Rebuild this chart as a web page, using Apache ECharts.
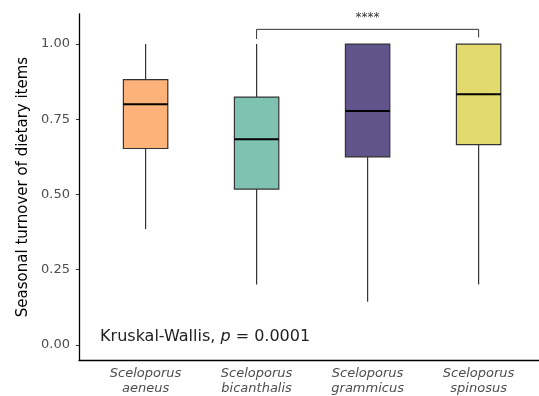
<!DOCTYPE html>
<html>
<head>
<meta charset="utf-8">
<script src="https://cdn.jsdelivr.net/npm/echarts@6/dist/echarts.min.js"></script>
<style>html,body{margin:0;padding:0;background:#fff}#c{width:539px;height:396px}</style>
</head>
<body>
<div id="c"></div>
<script>
const categories = ['Sceloporus\naeneus', 'Sceloporus\nbicanthalis', 'Sceloporus\ngrammicus', 'Sceloporus\nspinosus'];
const colors = ['#FDB27A', '#80C2B2', '#61548A', '#E2DA6D'];
// [lower whisker, Q1, median, Q3, upper whisker]
const lowWhisker = [0.385, 0.201, 0.144, 0.201];
const q1 = [0.653, 0.518, 0.625, 0.666];
const median = [0.800, 0.684, 0.778, 0.833];
const q3 = [0.882, 0.824, 1.000, 1.000];
const highWhisker = [1.000, 1.000, 1.000, 1.000];
const yTicks = [0, 0.25, 0.5, 0.75, 1.0];
const xTicks = [1, 2, 3, 4];
const bracket = { from: 2, to: 4, y: 1.049, leftEnd: 1.017, rightEnd: 1.022, label: '****', labelY: 1.088 };
const testLabel = { x: 0.59, y: 0.026 };

const boxData = categories.map((c, i) => [i + 1, lowWhisker[i], q1[i], median[i], q3[i], highWhisker[i], i]);

const chart = echarts.init(document.getElementById('c'), null, { renderer: 'canvas' });
const FONT = 'DejaVu Sans';
chart.setOption({
  backgroundColor: '#fff',
  animation: false,
  grid: { left: 79, right: 0, top: 14, bottom: 35, containLabel: false },
  xAxis: {
    type: 'value', min: 0.4, max: 4.544,
    splitLine: { show: false },
    axisLine: { show: true, onZero: false, lineStyle: { color: '#000', width: 1.3 } },
    axisTick: { show: false },
    axisLabel: {
      customValues: xTicks,
      formatter: v => categories[Math.round(v) - 1] || '',
      fontFamily: FONT, fontSize: 13, fontStyle: 'italic', color: '#4d4d4d',
      lineHeight: 15, margin: 6
    }
  },
  yAxis: {
    type: 'value', min: -0.05, max: 1.10,
    splitLine: { show: false },
    axisLine: { show: true, onZero: false, lineStyle: { color: '#000', width: 1.3 } },
    axisTick: { show: true, customValues: yTicks, length: 3, lineStyle: { color: '#333' } },
    axisLabel: {
      customValues: yTicks,
      formatter: v => v.toFixed(2),
      fontFamily: FONT, fontSize: 13, color: '#4d4d4d', margin: 9
    },
    name: 'Seasonal turnover of dietary items',
    nameLocation: 'middle', nameGap: 46,
    nameTextStyle: { fontFamily: FONT, fontSize: 15, color: '#000' }
  },
  series: [
    {
      type: 'custom',
      data: boxData,
      renderItem: function (params, api) {
        const x = api.value(0);
        const half = api.size([0.4, 0])[0] / 2;
        const pLow = api.coord([x, api.value(1)]);
        const pQ1 = api.coord([x, api.value(2)]);
        const pMed = api.coord([x, api.value(3)]);
        const pQ3 = api.coord([x, api.value(4)]);
        const pHigh = api.coord([x, api.value(5)]);
        const idx = api.value(6);
        const stroke = '#333';
        return {
          type: 'group',
          children: [
            { type: 'line', shape: { x1: pLow[0], y1: pLow[1], x2: pQ1[0], y2: pQ1[1] }, style: { stroke, lineWidth: 1.2 } },
            { type: 'line', shape: { x1: pQ3[0], y1: pQ3[1], x2: pHigh[0], y2: pHigh[1] }, style: { stroke, lineWidth: 1.2 } },
            { type: 'rect', shape: { x: pQ3[0] - half, y: pQ3[1], width: half * 2, height: pQ1[1] - pQ3[1] }, style: { fill: colors[idx], stroke, lineWidth: 1.2 } },
            { type: 'line', shape: { x1: pMed[0] - half, y1: pMed[1], x2: pMed[0] + half, y2: pMed[1] }, style: { stroke: '#000', lineWidth: 2 } }
          ]
        };
      }
    },
    {
      type: 'custom',
      data: [[bracket.from, bracket.to, bracket.y, bracket.leftEnd, bracket.rightEnd, bracket.labelY]],
      renderItem: function (params, api) {
        const a = api.coord([api.value(0), api.value(2)]);
        const b = api.coord([api.value(1), api.value(2)]);
        const aEnd = api.coord([api.value(0), api.value(3)]);
        const bEnd = api.coord([api.value(1), api.value(4)]);
        const lab = api.coord([(api.value(0) + api.value(1)) / 2, api.value(5)]);
        return {
          type: 'group',
          children: [
            { type: 'polyline', shape: { points: [aEnd, a, b, bEnd] }, style: { stroke: '#333', lineWidth: 1, fill: null } },
            { type: 'text', x: lab[0], y: lab[1], style: { text: bracket.label, fontFamily: FONT, fontSize: 12, fill: '#333', align: 'center', verticalAlign: 'middle' } }
          ]
        };
      }
    },
    {
      type: 'custom',
      data: [[testLabel.x, testLabel.y]],
      renderItem: function (params, api) {
        const p = api.coord([api.value(0), api.value(1)]);
        return {
          type: 'text', x: p[0], y: p[1],
          style: {
            text: '{n|Kruskal-Wallis, }{i|p}{n| = 0.0001}',
            verticalAlign: 'middle', align: 'left',
            rich: {
              n: { fontFamily: FONT, fontSize: 16, fill: '#222' },
              i: { fontFamily: FONT, fontSize: 16, fontStyle: 'italic', fill: '#222' }
            }
          }
        };
      }
    }
  ]
});
</script>
</body>
</html>
